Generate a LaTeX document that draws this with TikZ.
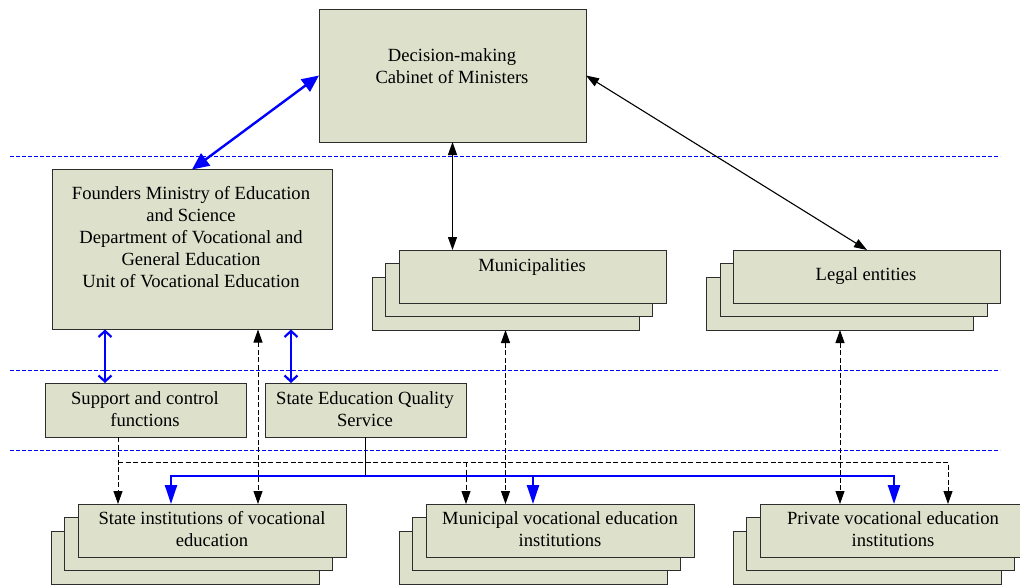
\documentclass[tikz,border=0pt]{standalone}
\usepackage{fontspec}
\setmainfont{Liberation Serif}
\usetikzlibrary{arrows.meta}
\definecolor{boxfill}{RGB}{221,224,203}
\definecolor{boxline}{RGB}{45,45,45}
\begin{document}
\begin{tikzpicture}[x=1pt,y=-1pt,
  box/.style={draw=boxline, fill=boxfill, line width=0.9pt, inner sep=0pt, outer sep=0pt},
  stackbox/.style={box, minimum width=267pt, minimum height=53pt},
  txt/.style={align=center, inner sep=0pt, font=\fontsize{18.6}{22}\selectfont},
  lane/.style={blue, line width=0.8pt, dash pattern=on 4pt off 2pt},
  link/.style={black, line width=1.1pt, {Triangle[length=13pt,width=9pt]}-{Triangle[length=13pt,width=9pt]}},
  dlink/.style={black, line width=0.9pt, dash pattern=on 5pt off 2.5pt},
  dhead/.style={-{Triangle[length=13pt,width=9pt]}},
  ddhead/.style={{Triangle[length=13pt,width=9pt]}-{Triangle[length=13pt,width=9pt]}},
  bluebig/.style={blue, line width=2.4pt, {Triangle[length=17pt,width=15pt]}-{Triangle[length=17pt,width=15pt]}},
  bluesmall/.style={blue, line width=2.2pt, {Straight Barb[length=6pt,width=13pt]}-{Straight Barb[length=6pt,width=13pt]}},
  bluebus/.style={blue, line width=2.4pt, line join=miter},
  bhead/.style={-{Triangle[length=19pt,width=12pt]}},
  bbhead/.style={{Triangle[length=19pt,width=12pt]}-{Triangle[length=19pt,width=12pt]}}
]
\useasboundingbox (0,0) rectangle (1020,584);
\fill[white] (0,0) rectangle (1020,584);

% swim-lane separators
\draw[lane] (10,156) -- (1000,156);
\draw[lane] (10,370) -- (1000,370);
\draw[lane] (10,450) -- (1000,450);

% top box
\node[box, minimum width=267pt, minimum height=133pt] (cab) at (452.5,75.5) {};
\node[txt] (cabT) at (452,66) {Decision-making\\Cabinet of Ministers};

% founders
\node[box, minimum width=280pt, minimum height=160pt] (found) at (192,249.5) {};
\node[txt] (foundT) at (191,237.5) {Founders Ministry of Education\\and Science\\Department of Vocational and\\General Education\\Unit of Vocational Education};

% municipalities stack
\node[stackbox] (munB) at (505.5,303.5) {};
\node[stackbox] (munM) at (519,290) {};
\node[stackbox] (munF) at (532.5,276.5) {};
\node[txt] (munT) at (532,267) {Municipalities};

% legal entities stack
\node[stackbox] (legB) at (840,303.5) {};
\node[stackbox] (legM) at (853.5,290) {};
\node[stackbox] (legF) at (867,276.5) {};
\node[txt] (legT) at (866,276) {Legal entities};

% support & SEQS
\node[box, minimum width=201pt, minimum height=54pt] (sup) at (145.5,410) {};
\node[txt] (supT) at (145,409) {Support and control\\functions};
\node[box, minimum width=201pt, minimum height=54pt] (seqs) at (365.5,410) {};
\node[txt] (seqsT) at (365,409) {State Education Quality\\Service};

% state institutions stack
\node[stackbox, minimum width=268pt] (stateB) at (185,557.5) {};
\node[stackbox, minimum width=268pt] (stateM) at (198.5,544) {};
\node[stackbox, minimum width=268pt] (stateF) at (212,530.5) {};
\node[txt] (stateT) at (212,529) {State institutions of vocational\\education};

% municipal vocational stack
\node[stackbox, minimum width=268pt] (munvB) at (533,557.5) {};
\node[stackbox, minimum width=268pt] (munvM) at (546.5,544) {};
\node[stackbox, minimum width=268pt] (munvF) at (560,530.5) {};
\node[txt] (munvT) at (560,529) {Municipal vocational education\\institutions};

% private vocational stack
\node[stackbox, minimum width=268pt] (privB) at (867,557.5) {};
\node[stackbox, minimum width=268pt] (privM) at (880.5,544) {};
\node[stackbox, minimum width=268pt] (privF) at (894,530.5) {};
\node[txt] (privT) at (893,529) {Private vocational education\\institutions};

% helper levels
\coordinate (dbus) at (0,462);
\coordinate (bbus) at (0,476);

% top connectors
\draw[bluebig] (cab.west) -- (found.north);
\draw[link] (cab.south) -- (cab.south |- munF.north);
\draw[link] (cab.east) -- (legF.north);

% founders to support / SEQS
\draw[bluesmall] ([xshift=-40.5pt]sup.north) -- ([xshift=-40.5pt]sup.north |- found.south);
\draw[bluesmall] ([xshift=-74.5pt]seqs.north) -- ([xshift=-74.5pt]seqs.north |- found.south);

% long dashed double links
\draw[dlink, ddhead] ([xshift=66pt]found.south) -- ([xshift=66pt]found.south |- stateF.north);
\draw[dlink, ddhead] (munB.south) -- (munB.south |- munvF.north);
\draw[dlink, ddhead] (legB.south) -- (legB.south |- privF.north);

% support control dashed network
\draw[dlink, dhead] ([xshift=-27.5pt]sup.south) -- ([xshift=-27.5pt]sup.south |- stateF.north);
\draw[dlink, dhead] ([xshift=-27.5pt]sup.south |- dbus) -- ([xshift=54pt]privF.north |- dbus) -- ([xshift=54pt]privF.north);
\draw[dlink, dhead] ([xshift=-94pt]munvF.north |- dbus) -- ([xshift=-94pt]munvF.north);

% SEQS blue bus
\draw[black, line width=1.8pt] (seqs.south) -- (seqs.south |- bbus);
\draw[bluebus, bbhead] ([xshift=-41pt]stateF.north) -- ([xshift=-41pt]stateF.north |- bbus) -- (privF.north |- bbus) -- (privF.north);
\draw[bluebus, bhead] ([xshift=-27pt]munvF.north |- bbus) -- ([xshift=-27pt]munvF.north);
\end{tikzpicture}
\end{document}
